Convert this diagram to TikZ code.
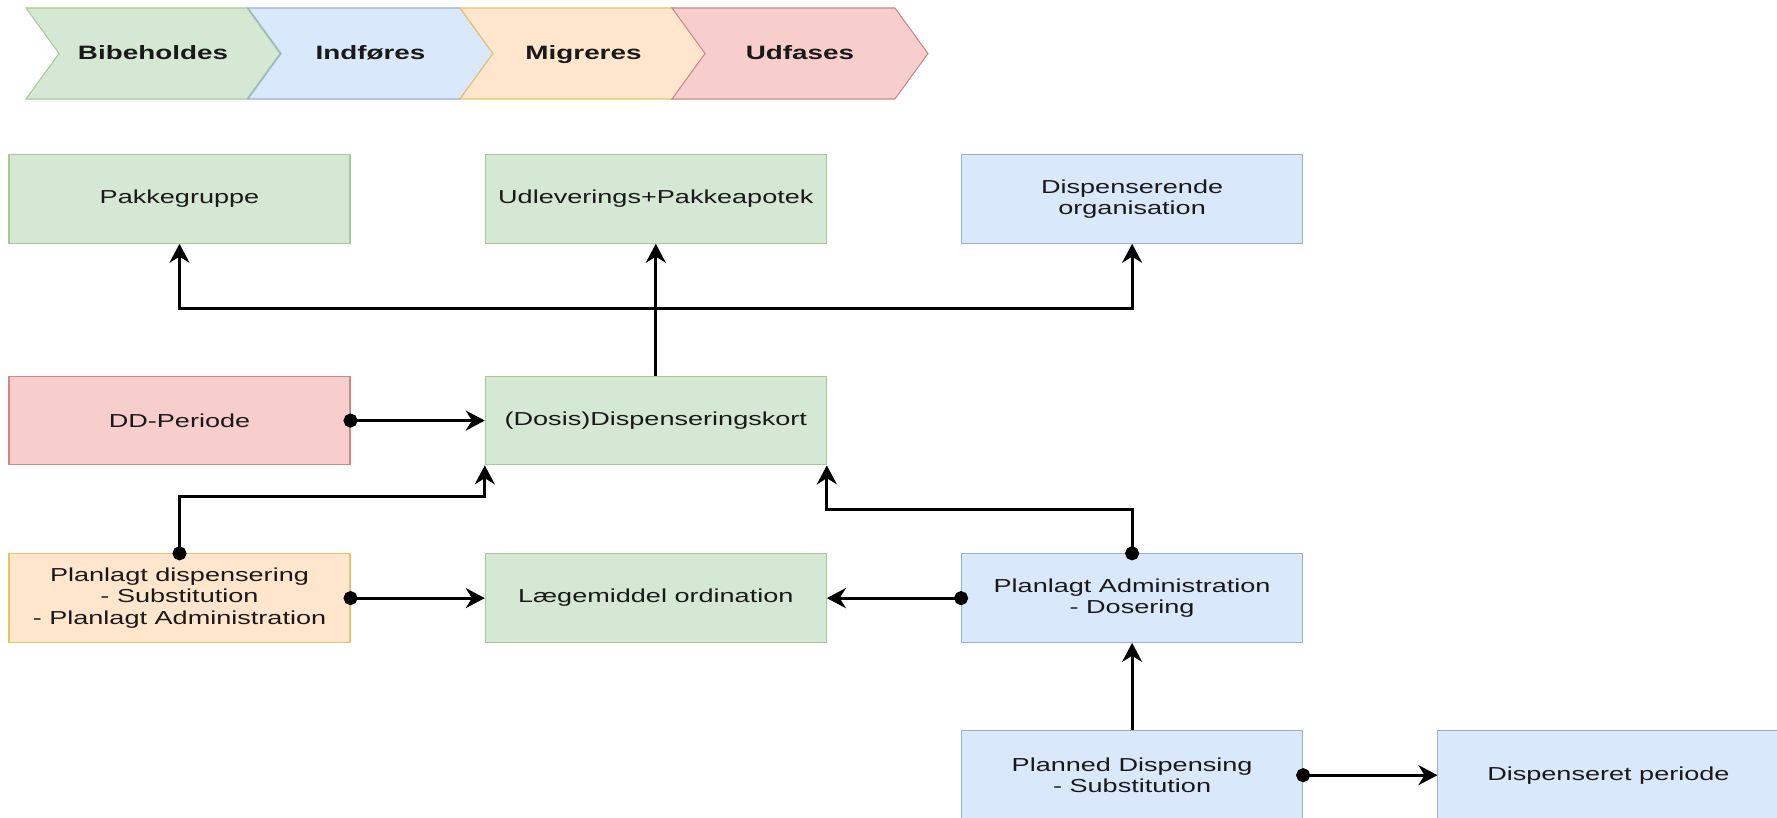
\documentclass[tikz,border=0pt]{standalone}
\usepackage{fontspec}
\setmainfont{Liberation Sans}[FakeStretch=1.44]
\usetikzlibrary{shapes,arrows.meta}
\usetikzlibrary{positioning}
\definecolor{greenfill}{HTML}{D5E8D4}
\definecolor{greendraw}{HTML}{82B366}
\definecolor{bluefill}{HTML}{DAE8FC}
\definecolor{bluedraw}{HTML}{6C8EBF}
\definecolor{orangefill}{HTML}{FFE6CC}
\definecolor{orangedraw}{HTML}{D79B00}
\definecolor{redfill}{HTML}{F8CECC}
\definecolor{reddraw}{HTML}{B85450}
\tikzstyle{block} = [rectangle, draw, line width=0.6pt, align=center,
    minimum width=6.82cm, minimum height=1.77cm, text=black!90,
    font=\fontsize{10.7}{12}\selectfont]
\tikzstyle{keptblock} = [block, fill=greenfill, draw=greendraw!70]
\tikzstyle{newblock} = [block, fill=bluefill, draw=bluedraw!70]
\tikzstyle{migrblock} = [block, fill=orangefill, draw=orangedraw!60]
\tikzstyle{outblock} = [block, fill=redfill, draw=reddraw!70]
\tikzstyle{phase} = [signal, signal from=west, signal to=east,
    signal pointer angle=108, draw, line width=0.6pt,
    minimum height=1.82cm, text=black!90, text height=1.6ex, text depth=0.3ex,
    font=\bfseries\fontsize{11}{13}\selectfont]
\tikzstyle{line} = [draw, line width=1.7pt,
    -{Stealth[length=0.38cm, width=0.4cm]}]
\tikzstyle{dotline} = [line,
    {Circle[length=0.28cm]}-{Stealth[length=0.38cm, width=0.4cm]},
    shorten <=-0.14cm]

\begin{document}
\begin{tikzpicture}[node distance = 2.685cm, auto]
  \useasboundingbox (0,0) rectangle (35.54,-16.34);
  \clip (0,0) rectangle (35.54,-16.34);
  % Legend
  \node [phase, fill=greenfill, draw=greendraw!70, minimum width=5.08cm] (keep) at (3.06,-1.07) {Bibeholdes};
  \node [phase, fill=bluefill, draw=bluedraw!70, minimum width=4.90cm] (intro) at (7.41,-1.07) {Indføres};
  \node [phase, fill=orangefill, draw=orangedraw!60, minimum width=4.94cm] (migr) at (11.67,-1.07) {Migreres};
  \node [phase, fill=redfill, draw=reddraw!70, minimum width=5.12cm] (phaseout) at (16.0,-1.07) {Udfases};

  % Place nodes
  \node [keptblock] (pakke) at (3.59,-3.98) {Pakkegruppe};
  \node [keptblock, right=of pakke] (udlev) {Udleverings+Pakkeapotek};
  \node [newblock, right=of udlev] (disporg) {Dispenserende\\organisation};

  \node [outblock, below=2.64cm of pakke] (dd) {DD-Periode};
  \node [keptblock, right=of dd] (kort) {(Dosis)Dispenseringskort};

  \node [migrblock, below=1.76cm of dd] (plandisp) {Planlagt dispensering\\- Substitution\\- Planlagt Administration};
  \node [keptblock, right=of plandisp] (laege) {Lægemiddel ordination};
  \node [newblock, right=of laege] (planadm) {Planlagt Administration\\- Dosering};

  \node [newblock, below=1.75cm of planadm] (planned) {Planned Dispensing\\- Substitution};
  \node [newblock, right=of planned] (disper) {Dispenseret periode};

  % paths
  \path [line] (kort.north) -- (udlev.south);
  \path [line] (kort.north) -- ++(0,1.34) -| (pakke.south);
  \path [line] (kort.north) -- ++(0,1.34) -| (disporg.south);

  \path [dotline] (dd.east) -- (kort.west);
  \path [dotline] (plandisp.north) -- ++(0,1.14) -| (kort.south west);
  \path [dotline] (planadm.north) -- ++(0,0.88) -| (kort.south east);

  \path [dotline] (plandisp.east) -- (laege.west);
  \path [dotline] (planadm.west) -- (laege.east);

  \path [line] (planned.north) -- (planadm.south);
  \path [dotline] (planned.east) -- (disper.west);

\end{tikzpicture}
\end{document}
